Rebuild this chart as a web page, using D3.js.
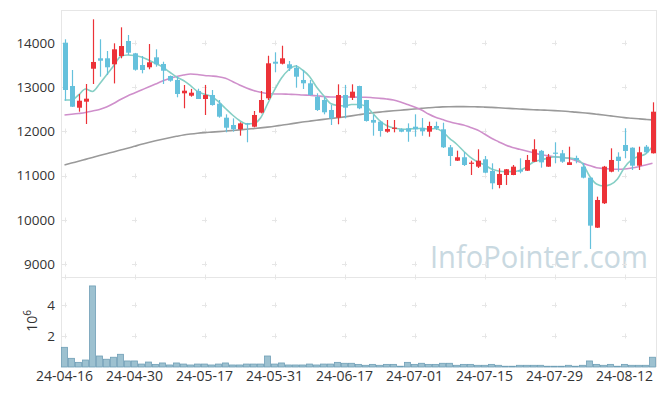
<!DOCTYPE html>
<html>
<head>
<meta charset="utf-8">
<script src="https://cdn.jsdelivr.net/npm/d3@7"></script>
<style>
  body { margin: 0; background: #fff; }
  text { font-family: "Open Sans", sans-serif; fill: #333; }
</style>
</head>
<body>
<div id="chart"></div>
<script>
// trading days
const dates = [
  "24-04-16","24-04-17","24-04-18","24-04-19","24-04-22","24-04-23","24-04-24","24-04-25","24-04-26","24-04-29",
  "24-04-30","24-05-02","24-05-03","24-05-07","24-05-08","24-05-09","24-05-10","24-05-13","24-05-14","24-05-16",
  "24-05-17","24-05-20","24-05-21","24-05-22","24-05-23","24-05-24","24-05-27","24-05-28","24-05-29","24-05-30",
  "24-05-31","24-06-03","24-06-04","24-06-05","24-06-07","24-06-10","24-06-11","24-06-12","24-06-13","24-06-14",
  "24-06-17","24-06-18","24-06-19","24-06-20","24-06-21","24-06-24","24-06-25","24-06-26","24-06-27","24-06-28",
  "24-07-01","24-07-02","24-07-03","24-07-04","24-07-05","24-07-08","24-07-09","24-07-10","24-07-11","24-07-12",
  "24-07-15","24-07-16","24-07-17","24-07-18","24-07-19","24-07-22","24-07-23","24-07-24","24-07-25","24-07-26",
  "24-07-29","24-07-30","24-07-31","24-08-01","24-08-02","24-08-05","24-08-06","24-08-07","24-08-08","24-08-09",
  "24-08-12","24-08-13","24-08-14","24-08-16","24-08-19"
];

const open = [14000,13023,12533,12669,13413,13648,13648,13513,13700,14038,
  13760,13497,13445,13670,13520,13249,13159,12858,12804,12910,
  12730,12820,12624,12308,12143,12046,12182,12105,12421,12746,
  13571,13526,13513,13436,13159,13084,12782,12707,12482,12308,
  12820,12759,13023,12707,12257,12218,11992,12060,12046,12068,
  12105,12080,11992,12121,12046,11640,11338,11415,11271,11203,
  11369,11106,10790,11015,11015,11128,11112,11315,11560,11203,
  11520,11505,11241,11400,11203,10955,9827,10377,11090,11428,
  11692,11631,11225,11654,11505];

const high = [14077,13384,12843,13068,14528,14077,13813,13986,14347,14174,
  13770,13700,13970,13851,13571,13260,13233,13046,12958,12962,
  13046,12933,12707,12384,12293,12204,12190,12459,12910,13706,
  13783,13932,13587,13497,13384,13159,12858,12782,12594,13061,
  13046,13061,13030,12710,12369,12240,12256,12256,12068,12180,
  12384,12300,12218,12218,12195,11692,11564,11534,11338,11595,
  11444,11279,11166,11150,11241,11392,11467,11821,11580,11490,
  11753,11580,11654,11451,11286,10960,10526,11220,11617,11527,
  12069,11640,11654,11692,12655];

const low = [12691,12550,12443,12166,13068,13233,13271,13081,13648,13723,
  13370,13309,13400,13459,13068,13120,12768,12520,12782,12730,
  12369,12580,12308,11978,11992,11902,11753,12090,12405,12707,
  13332,13510,13362,12985,12955,12805,12460,12384,12143,12159,
  12293,12707,12500,12220,11902,11880,11970,11978,11980,11765,
  11880,11900,11879,12030,11625,11218,11331,11218,11015,11173,
  11053,10693,10715,10790,11010,11053,11106,11309,11180,11200,
  11279,11290,11241,11279,10940,9346,9820,10360,11076,11090,
  11392,11128,11128,11505,11500];

const close = [12933,12556,12691,12737,13565,13594,13445,13851,13925,13774,
  13390,13384,13558,13513,13368,13143,12843,12917,12872,12730,
  12820,12594,12331,12082,12046,12180,12160,12369,12707,13535,
  13526,13648,13422,13233,13084,12820,12482,12430,12294,12820,
  12534,12895,12520,12234,12196,12008,12053,12083,11992,11992,
  12046,12000,12121,12069,11640,11444,11415,11241,11294,11338,
  11067,10828,11038,11144,11203,11090,11354,11595,11300,11428,
  11500,11315,11302,11354,10955,9872,10451,11203,11354,11331,
  11557,11225,11527,11527,12443];

// volume in 10^6 shares
const volume = [1.27,0.56,0.30,0.45,5.23,0.71,0.50,0.63,0.82,0.39,
  0.39,0.19,0.32,0.17,0.26,0.13,0.26,0.19,0.13,0.19,
  0.19,0.13,0.19,0.26,0.13,0.13,0.19,0.19,0.19,0.71,
  0.19,0.26,0.13,0.13,0.13,0.19,0.13,0.19,0.19,0.30,
  0.24,0.24,0.17,0.11,0.17,0.11,0.17,0.17,0.05,0.30,
  0.17,0.24,0.17,0.17,0.24,0.24,0.11,0.17,0.17,0.11,
  0.11,0.17,0.11,0.05,0.05,0.11,0.11,0.11,0.11,0.05,
  0.05,0.05,0.11,0.05,0.11,0.39,0.17,0.11,0.17,0.05,
  0.17,0.11,0.11,0.11,0.63];

// moving averages
const ma5 = [12707,12707,12820,12955,12899,13068,13271,13474,13689,13722,
  13711,13677,13610,13531,13452,13339,13226,13147,13030,12901,
  12836,12786,12669,12516,12369,12245,12166,12177,12301,12617,
  12933,13204,13384,13474,13384,13237,13001,12809,12628,12583,
  12572,12606,12606,12572,12414,12245,12132,12076,12053,12046,
  12064,12064,12053,12064,11992,11843,11715,11557,11410,11309,
  11241,11151,11106,11090,11094,11117,11196,11309,11354,11392,
  11428,11410,11399,11376,11275,10993,10812,10767,10801,10925,
  11185,11354,11433,11489,11658];

const ma20 = [12369,12385,12403,12425,12459,12493,12549,12628,12719,12798,
  12865,12933,13001,13068,13136,13192,13237,13271,13294,13283,
  13260,13249,13233,13197,13125,13046,12978,12922,12881,12854,
  12843,12843,12836,12831,12820,12813,12804,12786,12775,12775,
  12775,12775,12768,12768,12759,12746,12730,12707,12662,12606,
  12549,12482,12391,12317,12267,12218,12177,12143,12087,12031,
  11940,11843,11767,11692,11636,11595,11557,11518,11478,11451,
  11428,11410,11392,11342,11279,11230,11180,11162,11151,11146,
  11151,11173,11203,11241,11279];

const ma60 = [11241,11284,11324,11367,11410,11453,11494,11536,11577,11618,
  11663,11708,11749,11787,11823,11857,11888,11918,11940,11958,
  11972,11983,11994,12006,12019,12033,12046,12062,12078,12096,
  12116,12139,12161,12186,12209,12229,12249,12270,12288,12306,
  12326,12349,12373,12398,12419,12434,12450,12464,12477,12491,
  12504,12518,12531,12543,12552,12556,12558,12558,12556,12552,
  12547,12540,12531,12522,12513,12504,12495,12488,12482,12475,
  12468,12459,12448,12434,12421,12405,12387,12369,12349,12328,
  12310,12297,12283,12270,12258];

const priceTicks = [9000, 10000, 11000, 12000, 13000, 14000];
const volTicks = [2, 4];
const dateTicks = ["24-04-16","24-04-30","24-05-17","24-05-31","24-06-17","24-07-01","24-07-15","24-07-29","24-08-12"];

// layout
const width = 665, height = 396;
const left = 61, right = 656;
const priceTop = 10, priceBottom = 277;
const volBottom = 367;

const svg = d3.select("#chart").append("svg")
  .attr("width", width)
  .attr("height", height);

const x = d3.scaleBand()
  .domain(dates)
  .range([left, right])
  .padding(0);

const y = d3.scaleLinear()
  .domain([9000, 14000])
  .range([264.3, 42.7]);

const yVol = d3.scaleLinear()
  .domain([0, 4])
  .range([volBottom, 305]);

const cx = d => x(d) + x.bandwidth() / 2;

// watermark
svg.append("text")
  .attr("x", 430)
  .attr("y", 268)
  .attr("textLength", 218)
  .attr("lengthAdjust", "spacingAndGlyphs")
  .style("font-size", "31px")
  .style("fill", "#c9d9e1")
  .text("InfoPointer.com");

// panel frames
svg.append("rect")
  .attr("x", left + 0.5).attr("y", priceTop + 0.5)
  .attr("width", right - left).attr("height", priceBottom - priceTop)
  .attr("fill", "none").attr("stroke", "#e6e6e6");

svg.append("line")
  .attr("x1", left + 0.5).attr("x2", left + 0.5)
  .attr("y1", priceBottom).attr("y2", volBottom)
  .attr("stroke", "#e6e6e6");
svg.append("line")
  .attr("x1", right + 0.5).attr("x2", right + 0.5)
  .attr("y1", priceBottom).attr("y2", volBottom)
  .attr("stroke", "#e6e6e6");

// little "+" grid marks
const tickX = dateTicks.map(cx);
const plusPts = [];
tickX.forEach(px => {
  priceTicks.forEach(v => plusPts.push([px, y(v)]));
  volTicks.forEach(v => plusPts.push([px, yVol(v)]));
  plusPts.push([px, priceBottom]);
});
svg.append("g").selectAll("path")
  .data(plusPts)
  .enter().append("path")
  .attr("d", d => `M${d[0] - 2.5},${Math.round(d[1]) + 0.5}h5M${Math.round(d[0]) + 0.5},${Math.round(d[1]) - 2.5}v5`)
  .attr("stroke", "#e6e6e6")
  .attr("fill", "none");

// axes
const yAxis = svg.append("g")
  .attr("transform", `translate(${left},0)`)
  .call(d3.axisLeft(y).tickValues(priceTicks).tickSize(0).tickPadding(6).tickFormat(d3.format("d")));
yAxis.select(".domain").remove();
yAxis.selectAll("text").style("font-size", "13.5px").style("fill", "#333");

const vAxis = svg.append("g")
  .attr("transform", `translate(${left},0)`)
  .call(d3.axisLeft(yVol).tickValues(volTicks).tickSize(0).tickPadding(6).tickFormat(d3.format("d")));
vAxis.select(".domain").remove();
vAxis.selectAll("text").style("font-size", "13.5px").style("fill", "#333");

const xAxis = svg.append("g")
  .attr("transform", `translate(0,${volBottom})`)
  .call(d3.axisBottom(x).tickValues(dateTicks).tickSize(0).tickPadding(4));
xAxis.select(".domain").remove();
xAxis.selectAll("text").style("font-size", "14px").style("fill", "#333");

// 10^6 label
const expLabel = svg.append("text")
  .attr("transform", "translate(37,321) rotate(-90)")
  .attr("text-anchor", "middle")
  .style("font-size", "14px");
expLabel.append("tspan").text("10");
expLabel.append("tspan").attr("dy", "-6").style("font-size", "10px").text("6");

// volume bars
svg.append("g").selectAll("rect")
  .data(dates)
  .enter().append("rect")
  .attr("x", d => x(d) + 0.5)
  .attr("y", (d, i) => yVol(volume[i]))
  .attr("width", x.bandwidth() - 1)
  .attr("height", (d, i) => volBottom - yVol(volume[i]))
  .attr("fill", "#9dc1d0")
  .attr("stroke", "#6f9fb6")
  .attr("stroke-width", 0.8);

// moving average lines
const maLine = arr => d3.line()
  .x((d, i) => cx(dates[i]))
  .y(d => y(d))
  .curve(d3.curveMonotoneX)(arr);

[[ma60, "#9a9a9a"], [ma20, "#cf8fcb"], [ma5, "#86cfc5"]].forEach(([arr, col]) => {
  svg.append("path")
    .attr("d", maLine(arr))
    .attr("fill", "none")
    .attr("stroke", col)
    .attr("stroke-width", 1.6);
});

// candles
const up = "#ec3238", down = "#65c1dc";
const candle = svg.append("g").selectAll("g")
  .data(dates)
  .enter().append("g");

candle.append("line")
  .attr("x1", d => Math.round(cx(d)) + 0.5)
  .attr("x2", d => Math.round(cx(d)) + 0.5)
  .attr("y1", (d, i) => y(high[i]))
  .attr("y2", (d, i) => y(low[i]))
  .attr("stroke", (d, i) => close[i] >= open[i] ? up : down)
  .attr("stroke-width", 1.2);

candle.append("rect")
  .attr("x", d => Math.round(cx(d)) + 0.5 - 2.5)
  .attr("y", (d, i) => y(Math.max(open[i], close[i])))
  .attr("width", 5)
  .attr("height", (d, i) => Math.max(1.2, Math.abs(y(open[i]) - y(close[i]))))
  .attr("fill", (d, i) => close[i] >= open[i] ? up : down);
</script>
</body>
</html>
